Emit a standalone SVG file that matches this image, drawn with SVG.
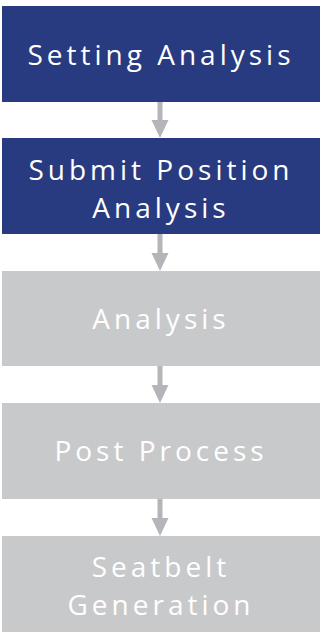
<svg xmlns="http://www.w3.org/2000/svg" width="320" height="635" viewBox="0 0 320 635">
<style>
.dark{fill:#283a80}
.light{fill:#c8c9cb}
.t{font-family:"Open Sans","Liberation Sans",sans-serif;font-size:28px;fill:#ffffff;text-anchor:middle;letter-spacing:4px}
.arrow{fill:#b4b5b8}
</style>
<rect width="320" height="635" fill="#ffffff"/>
<g id="connectors">
<path class="arrow" d="M157.5,102 H162.5 V120 H168.5 L160,138 L151.5,120 H157.5 Z"/>
<path class="arrow" d="M157.5,234 H162.5 V253 H168.5 L160,271 L151.5,253 H157.5 Z"/>
<path class="arrow" d="M157.5,366 H162.5 V385 H168.5 L160,403 L151.5,385 H157.5 Z"/>
<path class="arrow" d="M157.5,499 H162.5 V518 H168.5 L160,536 L151.5,518 H157.5 Z"/>
</g>
<g id="setting-analysis">
<rect class="dark" x="2" y="6" width="318" height="96"/>
<text class="t" x="161" y="65">Setting Analysis</text>
</g>
<g id="submit-position-analysis">
<rect class="dark" x="2" y="138" width="318" height="96"/>
<text class="t" x="161" y="180">Submit Position</text>
<text class="t" x="161" y="218">Analysis</text>
</g>
<g id="analysis">
<rect class="light" x="2" y="271" width="318" height="95"/>
<text class="t" x="161" y="329">Analysis</text>
</g>
<g id="post-process">
<rect class="light" x="2" y="403" width="318" height="96"/>
<text class="t" x="161" y="461">Post Process</text>
</g>
<g id="seatbelt-generation">
<rect class="light" x="2" y="536" width="318" height="96"/>
<text class="t" x="161" y="577">Seatbelt</text>
<text class="t" x="161" y="615">Generation</text>
</g>
</svg>
